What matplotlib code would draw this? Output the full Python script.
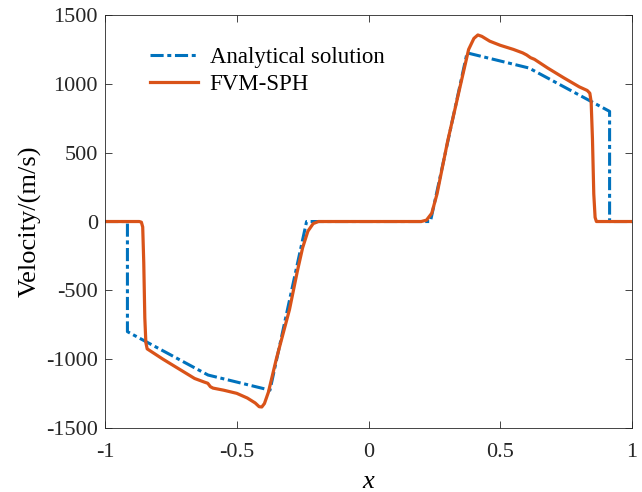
import matplotlib
matplotlib.use("Agg")
import matplotlib.pyplot as plt

plt.rcParams['font.family'] = ['Liberation Serif', 'DejaVu Serif']
plt.rcParams['mathtext.fontset'] = 'custom'
plt.rcParams['mathtext.it'] = 'Liberation Serif:italic'
plt.rcParams['axes.unicode_minus'] = False

# Analytical solution
ana_x = [-1.0, -0.915, -0.915, -0.609, -0.374, -0.235, 0.235, 0.374, 0.609, 0.915, 0.915, 1.0]
ana_v = [0, 0, -800, -1115, -1225, 0, 0, 1225, 1115, 800, 0, 0]

# FVM-SPH
fvm_x = [-1.0, -0.87, -0.862, -0.857, -0.853, -0.849, -0.845, -0.840, -0.82, -0.78,
         -0.72, -0.66, -0.625, -0.61, -0.60, -0.59, -0.55, -0.50, -0.46, -0.43,
         -0.415, -0.405, -0.395, -0.38, -0.35, -0.30, -0.27, -0.25, -0.23, -0.21,
         -0.19, 0.19, 0.20, 0.22, 0.24, 0.26, 0.30, 0.35, 0.38, 0.40,
         0.415, 0.43, 0.46, 0.50, 0.55, 0.585, 0.60, 0.615, 0.63, 0.68,
         0.74, 0.80, 0.83, 0.840, 0.845, 0.850, 0.855, 0.860, 0.865, 1.0]
fvm_v = [0, 0, -5, -40, -300, -700, -880, -925, -950, -1000,
         -1070, -1140, -1165, -1175, -1200, -1210, -1225, -1248, -1282, -1318,
         -1345, -1347, -1322, -1240, -1000, -640, -360, -190, -70, -15,
         0, 0, 0, 10, 60, 200, 580, 1000, 1250, 1330,
         1355, 1345, 1310, 1280, 1250, 1225, 1210, 1190, 1178, 1115,
         1045, 978, 952, 932, 870, 600, 200, 30, 0, 0]

xticks = [-1, -0.5, 0, 0.5, 1]
xticklabels = ['-1', '-0.5', '0', '0.5', '1']
yticks = [-1500, -1000, -500, 0, 500, 1000, 1500]

fig = plt.figure(figsize=(6.42, 4.92), dpi=100)
ax = fig.add_axes([0.1636, 0.130, 0.8208, 0.8395])

ax.plot(ana_x, ana_v, color='#0072BD', lw=2.2, linestyle=(0, (4.3, 1.2, 1.3, 1.2)),
        label='Analytical solution')
ax.plot(fvm_x, fvm_v, color='#D95319', lw=2.3, label='FVM-SPH', solid_joinstyle='round')

ax.set_xlim(-1, 1)
ax.set_ylim(-1500, 1500)
ax.set_xticks(xticks)
ax.set_xticklabels(xticklabels)
ax.set_yticks(yticks)
ax.tick_params(direction='in', top=True, right=True, length=5, width=0.6,
               labelsize=16, colors='#262626')
ax.tick_params(axis='x', pad=11)
ax.tick_params(axis='y', pad=5)
for s in ax.spines.values():
    s.set_linewidth(0.6)
    s.set_color('#262626')

ax.set_xlabel('$x$', fontsize=19, labelpad=6)
ax.set_ylabel('Velocity/(m/s)', fontsize=19, labelpad=3)

ax.legend(loc='upper left', bbox_to_anchor=(0.068, 0.945), frameon=False,
          fontsize=16.5, handlelength=2.1, handletextpad=0.5, labelspacing=0.28,
          borderaxespad=0)

fig.savefig('out.png', dpi=100)
